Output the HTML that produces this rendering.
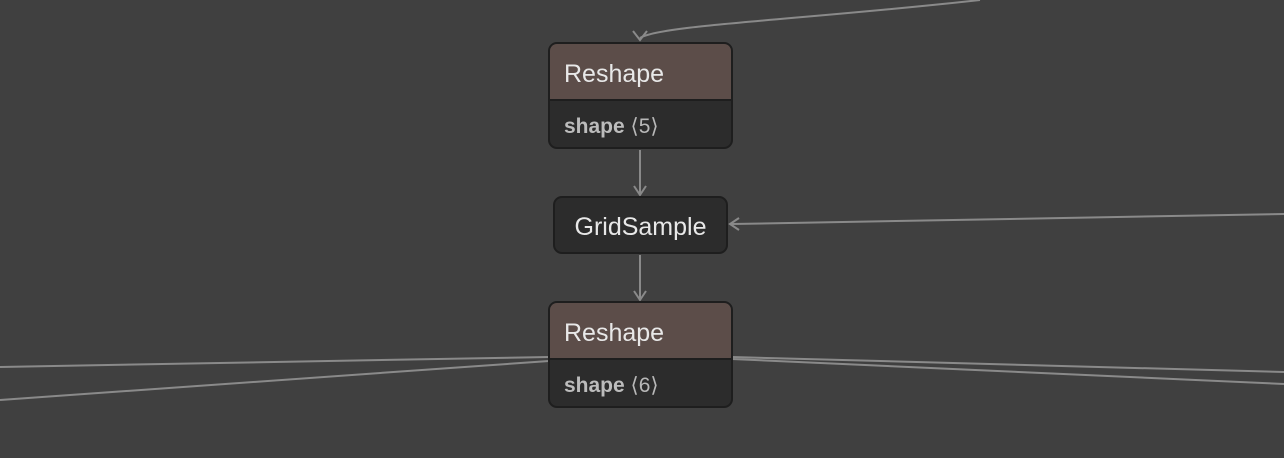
<!DOCTYPE html>
<html><head><style>
body{margin:0;width:1284px;height:458px;background:#404040;overflow:hidden;font-family:"Liberation Sans",sans-serif;position:relative}
.n{position:absolute;box-sizing:border-box;border:2px solid #1e1e1e;border-radius:9px;overflow:hidden;background:#2c2c2c}
.h{background:#5c4d49;color:#e8e8e8;font-size:25px;padding-left:14px;box-sizing:border-box;border-bottom:2px solid #1e1e1e}
.a{color:#b8b8b8;font-size:21px;padding-left:14px}
.a b{color:#bcbcbc}
svg{position:absolute;left:0;top:0}
</style></head><body>
<svg width="1284" height="458">
<g stroke="#8a8a8a" stroke-width="2" fill="none">
<path d="M980 0 C800 20 660 25 640 38"/>
<path d="M640 150 L640 193"/>
<path d="M640 255 L640 298"/>
<path d="M1284 214 L732 224"/>
<path d="M0 367 L549 357"/>
<path d="M0 400 L549 361"/>
<path d="M732 357 L1284 372"/>
<path d="M732 359 L1284 384"/>
</g>
<g fill="none" stroke="#8a8a8a" stroke-width="2">
<path d="M633 31 L640 40 L647 31"/>
<path d="M634 186 L640 195 L646 186"/>
<path d="M634 291 L640 300 L646 291"/>
<path d="M739 218 L730 224 L739 230"/>
</g>
</svg>
<div class="n" style="left:548px;top:42px;width:185px;height:107px">
<div class="h" style="height:57px;line-height:60px">Reshape</div>
<div class="a" style="line-height:52px"><b>shape</b> ⟨5⟩</div></div>
<div class="n" style="left:553px;top:196px;width:175px;height:58px;color:#e8e8e8;font-size:25px;line-height:58px;text-align:center">GridSample</div>
<div class="n" style="left:548px;top:301px;width:185px;height:107px">
<div class="h" style="height:57px;line-height:60px">Reshape</div>
<div class="a" style="line-height:52px"><b>shape</b> ⟨6⟩</div></div>
</body></html>
